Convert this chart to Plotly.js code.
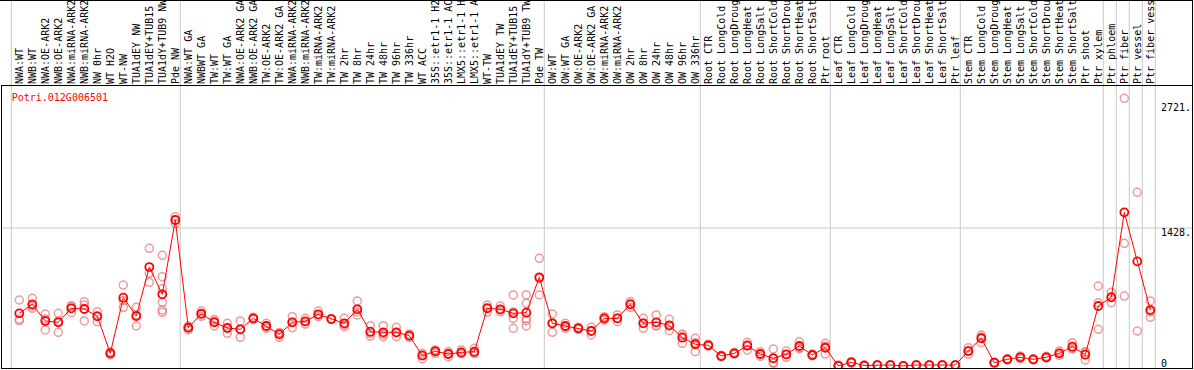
<!DOCTYPE html>
<html>
<head>
<meta charset="utf-8">
<script src="https://cdn.plot.ly/plotly-3.0.1.min.js"></script>
<style>html,body{margin:0;padding:0;background:#fff;}#chart{width:1194px;height:370px;}</style>
</head>
<body>
<div id="chart"></div>
<script>
const geneId = "Potri.012G006501";

const labels = [
  "NWA:WT","NWB:WT","NWA:OE-ARK2","NWB:OE-ARK2","NWA:miRNA-ARK2","NWB:miRNA-ARK2","NW 0hr","WT H2O","WT-NW",
  "TUA1dEY NW","TUA1dEY+TUB15","TUA1dY+TUB9 NW","Pde NW",
  "NWA:WT GA","NWBWT GA","TW:WT","TW:WT GA","NWA:OE-ARK2 GA","NWB:OE-ARK2 GA","TW:OE-ARK2","TW:OE-ARK2 GA",
  "NWA:miRNA-ARK2","NWB:miRNA-ARK2","TW:miRNA-ARK2","TW:miRNA-ARK2","TW 2hr","TW 8hr","TW 24hr","TW 48hr",
  "TW 96hr","TW 336hr","WT ACC","35S::etr1-1 H2","35S::etr1-1 AC","LMX5::etr1-1 H","LMX5::etr1-1 A","WT-TW",
  "TUA1dEY TW","TUA1dEY+TUB15","TUA1dY+TUB9 TW","Pde TW",
  "OW:WT","OW:WT GA","OW:OE-ARK2","OW:OE-ARK2 GA","OW:miRNA-ARK2","OW:miRNA-ARK2","OW 2hr","OW 8hr","OW 24hr",
  "OW 48hr","OW 96hr","OW 336hr",
  "Root CTR","Root LongCold","Root LongDroug","Root LongHeat","Root LongSalt","Root ShortCold","Root ShortDrou",
  "Root ShortHeat","Root ShortSalt","Ptr root",
  "Leaf CTR","Leaf LongCold","Leaf LongDroug","Leaf LongHeat","Leaf LongSalt","Leaf ShortCold","Leaf ShortDrou",
  "Leaf ShortHeat","Leaf ShortSalt","Ptr leaf",
  "Stem CTR","Stem LongCold","Stem LongDroug","Stem LongHeat","Stem LongSalt","Stem ShortCold","Stem ShortDrou",
  "Stem ShortHeat","Stem ShortSalt","Ptr shoot",
  "Ptr xylem","Ptr phloem","Ptr fiber","Ptr vessel","Ptr fiber vess"
];

const means = [
  545,638,466,452,597,590,514,131,707,517,1024,742,1511,
  396,541,452,393,380,493,414,328,452,462,535,486,442,587,355,349,349,314,107,152,124,141,148,597,587,545,552,918,
  442,414,390,362,493,493,638,442,452,421,293,225,
  214,103,131,210,124,80,121,207,114,189,
  2,38,5,10,10,1,10,10,10,10,
  155,287,34,69,90,69,90,131,200,117,
  621,711,1590,1083,579
];

const replicates = [
  [683,483,470],[700,597,620],[538,373,487],[545,349,462],[624,552,615],[666,466,631],[562,459,521],[148,114,131],
  [838,607,676],[607,414,530],[1218,959,866],[1145,924,800,659,579,555],[1545,1476,1511],
  [414,373,400],[569,514,541],[480,414,462],[442,338,400],[466,297,378],[504,480,493],[442,390,414],[345,297,342],
  [510,396,452],[493,434,459],[569,510,528],[490,483,486],[493,407,428],[673,528,560],[417,310,338],[417,304,328],
  [400,304,345],[331,297,314],[131,76,114],[166,131,159],[148,96,128],[166,128,131],[183,131,131],[631,555,605],
  [621,562,580],[735,493,390,560],[735,649,469,414,490],[1114,735,905],
  [538,349,440],[442,390,410],[400,380,390],[400,321,365],[510,476,493],[528,459,493],[666,607,641],[493,390,443],
  [528,414,420],[483,365,415],[331,235,313],[287,148,240],
  [225,207,210],[110,96,103],[141,124,128],[245,166,220],[148,100,124],[176,35,28],[155,90,118],[251,180,190],
  [124,105,114],[235,124,208],
  [10,0,0],[45,30,38],[5,5,5],[10,10,10],[10,10,10],[0,0,2],[10,10,10],[10,10,10],[10,10,10],[10,10,10],
  [190,121,155],[321,241,300],[40,30,34],[75,62,69],[103,76,90],[75,62,69],[100,83,90],[155,110,131],[241,176,183],
  [148,62,141],
  [828,655,380],[762,655,716],[2770,1270,724],[1797,362],[673,504,560]
];

// index of the first sample of each separated group (plus the end)
const groupStarts = [0,13,41,53,63,73,84,85,86,87,88];

const yTickVals = [0,1428,2721];
const yTickText = ["0<br>\u00a0","1428.","2721."];

const idx = labels.map((_, i) => i);
const repX = [], repY = [];
replicates.forEach((r, i) => r.forEach(v => { repX.push(i); repY.push(v); }));

const FONT = "DejaVu Sans Mono, Liberation Mono, monospace";

const traces = [
  {
    x: repX, y: repY, type: "scatter", mode: "markers", hoverinfo: "skip",
    marker: {symbol: "circle-open", size: 8, color: "rgba(232,120,120,0.75)", line: {width: 1.5}}
  },
  {
    x: idx, y: means, type: "scatter", mode: "lines+markers",
    line: {color: "#ff0000", width: 1},
    marker: {symbol: "circle-open", size: 8, color: "#ff0000", line: {width: 1.8}}
  }
];

// page geometry of the plot box
const W = 1194, H = 370, L = 2, R = 1160, T = 85, B = 369;
const px = v => (v - L) / (R - L);
const py = v => (B - v) / (B - T);

const shapes = groupStarts.map(g => ({
  type: "line", xref: "x", yref: "paper", x0: g - 0.615, x1: g - 0.615, y0: py(B), y1: py(0),
  line: {color: "#c8c8c8", width: 1}, layer: "below"
}));
shapes.push({type: "line", xref: "paper", yref: "y", x0: px(L), x1: px(1193), y0: yTickVals[1], y1: yTickVals[1],
  line: {color: "#c8c8c8", width: 1}, layer: "below"});
const black = {color: "#000", width: 1};
shapes.push({type: "line", xref: "paper", yref: "paper", x0: px(0), x1: px(1193), y0: py(0.5), y1: py(0.5), line: black});
shapes.push({type: "line", xref: "paper", yref: "paper", x0: px(L), x1: px(1193), y0: py(85.5), y1: py(85.5), line: black});
shapes.push({type: "line", xref: "paper", yref: "paper", x0: px(L), x1: px(1193), y0: py(368.5), y1: py(368.5), line: black});
shapes.push({type: "line", xref: "paper", yref: "paper", x0: px(1.5), x1: px(1.5), y0: py(85), y1: py(369), line: black});
shapes.push({type: "line", xref: "paper", yref: "paper", x0: px(1192.5), x1: px(1192.5), y0: py(0), y1: py(369), line: black});

const layout = {
  width: W, height: H,
  margin: {l: L, r: W - R, t: T, b: H - B, pad: 0},
  paper_bgcolor: "#fff", plot_bgcolor: "#fff",
  showlegend: false,
  font: {family: FONT, size: 10, color: "#000"},
  title: {text: geneId, font: {family: FONT, size: 10, color: "#ff0000"},
    x: 10 / W, xanchor: "left", xref: "paper", y: 1 - 97 / H, yanchor: "middle", yref: "container"},
  xaxis: {
    side: "top", range: [-1.331, (R - 19.3) / 13], tickmode: "array", tickvals: idx, ticktext: labels,
    tickangle: -90, ticks: "", showgrid: false, zeroline: false, showline: false,
    tickfont: {family: FONT, size: 10, color: "#000"}, automargin: false
  },
  yaxis: {
    side: "right", range: [-31, 2908], tickmode: "array", tickvals: yTickVals, ticktext: yTickText,
    ticks: "", showgrid: false, zeroline: false, showline: false, ticklabelshift: 4,
    ticklabeloverflow: "allow",
    tickfont: {family: FONT, size: 10, color: "#000"}, automargin: false
  },
  shapes: shapes
};

Plotly.newPlot("chart", traces, layout, {displayModeBar: false, staticPlot: true});
</script>
</body>
</html>
